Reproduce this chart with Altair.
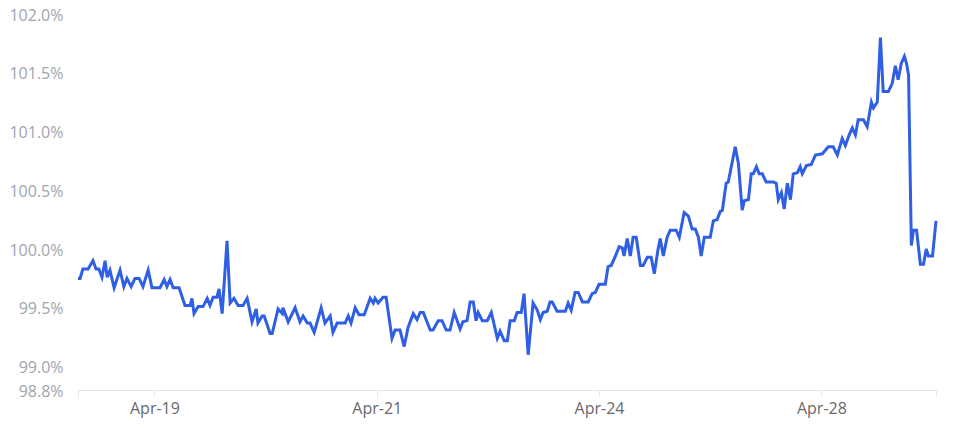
import altair as alt
import pandas as pd

# position along the series (index units) and value in %
t = [0.0, 0.6, 1.4, 2.9, 4.3, 5.2, 6.0, 6.9, 7.8, 8.4, 9.2, 10.4, 12.1, 13.2, 14.1, 15.3, 16.4, 17.6, 18.7, 20.2,
     21.3, 23.6, 24.8, 25.6, 26.5, 27.4, 29.1, 30.8, 32.3, 32.8, 33.4, 34.6, 36.0, 37.2, 38.0, 38.9, 40.0, 40.6,
     41.5, 42.9, 43.8, 44.9, 46.1, 47.5, 48.7, 50.1, 51.3, 51.8, 53.0, 53.6, 55.3, 55.9, 57.6, 58.8, 59.0, 60.5,
     62.5, 63.9, 64.8, 66.0, 66.8, 68.0, 70.0, 71.1, 72.6, 73.4, 74.6, 76.9, 77.8, 78.6, 79.8, 80.9, 82.4, 84.1,
     85.0, 85.5, 86.4, 87.8, 88.7, 90.4, 91.3, 92.7, 93.9, 95.0, 96.5, 97.6, 98.5, 99.4, 101.4, 102.2, 103.7,
     104.8, 106.0, 107.1, 108.3, 110.0, 110.8, 112.0, 112.9, 113.8, 114.6, 115.2, 116.4, 117.8, 119.0, 120.7,
     121.5, 122.7, 123.6, 124.4, 125.6, 126.4, 127.6, 128.4, 129.6, 131.0, 132.2, 133.1, 133.9, 135.1, 135.9,
     136.5, 137.9, 140.3, 141.1, 142.0, 143.1, 144.0, 145.2, 146.9, 148.0, 148.9, 150.0, 151.8, 152.6, 153.5,
     154.7, 155.8, 156.7, 157.2, 158.1, 159.0, 159.8, 160.7, 161.9, 162.7, 163.9, 165.0, 165.9, 167.0, 167.6,
     168.5, 169.6, 170.5, 172.2, 173.1, 174.5, 175.7, 176.8, 177.7, 178.6, 179.4, 180.3, 182.0, 182.9, 184.0,
     184.9, 185.5, 186.6, 187.2, 189.2, 190.1, 191.2, 191.8, 193.0, 193.8, 194.4, 195.3, 196.1, 197.0, 198.1,
     200.2, 201.0, 201.6, 202.5, 203.3, 204.2, 205.1, 205.9, 207.1, 207.9, 208.5, 209.7, 211.1, 212.3, 214.3,
     216.0, 217.4, 218.6, 220.0, 220.9, 222.0, 222.9, 223.8, 224.6, 226.1, 227.2, 228.4, 229.0, 230.1, 231.0,
     231.8, 233.3, 234.4, 235.3, 236.1, 237.0, 237.9, 238.5, 239.1, 239.9, 240.5, 241.4, 242.5, 243.4, 244.2,
     244.8, 246.0, 247.0]
v = [99.75, 99.75, 99.83, 99.83, 99.90, 99.83, 99.83, 99.76, 99.90, 99.76, 99.82, 99.67, 99.82, 99.68, 99.75,
     99.68, 99.75, 99.75, 99.68, 99.82, 99.67, 99.67, 99.74, 99.68, 99.74, 99.67, 99.67, 99.52, 99.52, 99.58,
     99.45, 99.51, 99.51, 99.58, 99.52, 99.59, 99.59, 99.66, 99.45, 100.07, 99.54, 99.58, 99.52, 99.52, 99.58,
     99.38, 99.49, 99.37, 99.43, 99.43, 99.28, 99.28, 99.49, 99.45, 99.50, 99.38, 99.50, 99.38, 99.43, 99.37,
     99.37, 99.29, 99.50, 99.37, 99.43, 99.29, 99.37, 99.37, 99.43, 99.37, 99.50, 99.44, 99.44, 99.58, 99.54,
     99.58, 99.54, 99.59, 99.59, 99.24, 99.31, 99.31, 99.17, 99.33, 99.45, 99.40, 99.46, 99.46, 99.31, 99.31,
     99.39, 99.39, 99.31, 99.31, 99.46, 99.32, 99.38, 99.39, 99.55, 99.55, 99.39, 99.46, 99.39, 99.39, 99.46,
     99.24, 99.30, 99.22, 99.22, 99.39, 99.39, 99.46, 99.46, 99.62, 99.10, 99.54, 99.48, 99.40, 99.46, 99.47,
     99.55, 99.55, 99.47, 99.47, 99.54, 99.48, 99.63, 99.63, 99.55, 99.55, 99.62, 99.63, 99.70, 99.70, 99.85,
     99.86, 99.94, 100.02, 100.01, 99.94, 100.09, 99.94, 100.10, 100.10, 99.86, 99.86, 99.93, 99.93, 99.79,
     100.00, 100.09, 99.94, 100.10, 100.16, 100.16, 100.10, 100.31, 100.28, 100.17, 100.17, 100.10, 99.94,
     100.10, 100.10, 100.24, 100.25, 100.32, 100.33, 100.56, 100.57, 100.87, 100.73, 100.33, 100.41, 100.42,
     100.64, 100.64, 100.70, 100.64, 100.64, 100.57, 100.57, 100.56, 100.42, 100.48, 100.34, 100.56, 100.42,
     100.64, 100.65, 100.70, 100.64, 100.71, 100.72, 100.80, 100.81, 100.87, 100.87, 100.80, 100.94, 100.88,
     100.97, 101.03, 100.97, 101.10, 101.10, 101.04, 101.25, 101.20, 101.25, 101.80, 101.34, 101.34, 101.41,
     101.56, 101.44, 101.58, 101.64, 101.58, 101.48, 100.03, 100.16, 100.16, 99.87, 99.87, 100.00, 99.94,
     99.94, 100.24]

tick_positions = [22, 86, 150, 214]
tick_labels = ["Apr-19", "Apr-21", "Apr-24", "Apr-28"]
y_ticks = [98.8, 99.0, 99.5, 100.0, 100.5, 101.0, 101.5, 102.0]

df = pd.DataFrame({"t": t, "v": v})

label_expr = " : ".join(
    f"datum.value == {p} ? '{l}'" for p, l in zip(tick_positions, tick_labels)
) + " : ''"

chart = alt.Chart(df).mark_line(color="#2f5fe3", strokeWidth=3, interpolate="linear").encode(
    x=alt.X("t:Q",
            scale=alt.Scale(domain=[0, 247], nice=False, zero=False),
            axis=alt.Axis(values=[0] + tick_positions + [247], labelExpr=label_expr, title=None,
                          grid=False, domainColor="#e3e5e8", tickColor="#e3e5e8", tickSize=6,
                          labelFont="Open Sans", labelFontSize=16, labelColor="#6a6a6a",
                          labelPadding=4, labelOverlap=False)),
    y=alt.Y("v:Q",
            scale=alt.Scale(domain=[98.8, 102.0], nice=False, zero=False),
            axis=alt.Axis(values=y_ticks, labelExpr="format(datum.value, '.1f') + '%'", title=None,
                          grid=False, domain=False, ticks=False, labelPadding=15,
                          labelFont="Open Sans", labelFontSize=16, labelColor="#a0a5ae",
                          labelOverlap=False, labelFlush=False, labelOffset=1)),
).properties(
    width=858, height=376,
    autosize=alt.AutoSizeParams(type="none"),
    padding={"left": 70, "top": 6, "right": 10, "bottom": 30},
).configure_view(stroke=None)

chart.save("out.html", embed_options={"renderer": "svg", "actions": False})
